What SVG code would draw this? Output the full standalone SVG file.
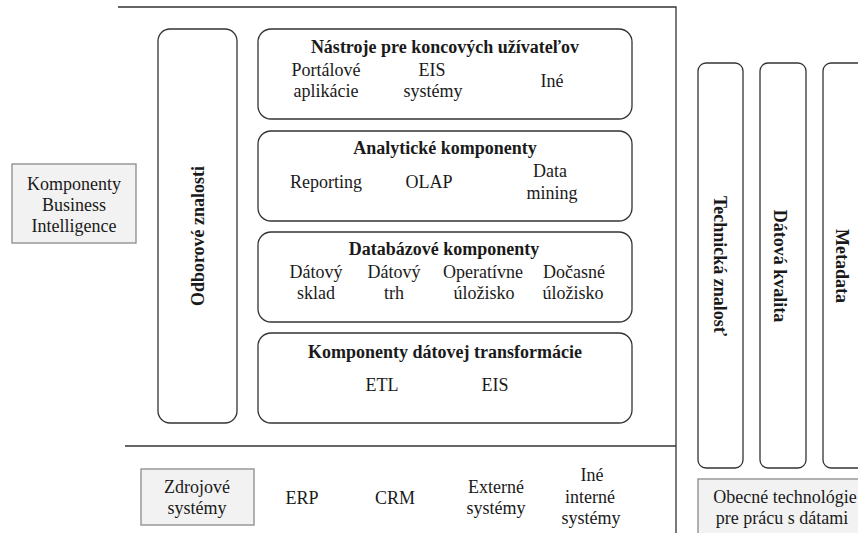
<svg xmlns="http://www.w3.org/2000/svg" width="858" height="533" viewBox="0 0 858 533" font-family="'Liberation Serif', 'Times New Roman', serif">
<style>
text{font-family:'Liberation Serif','Times New Roman',serif;font-size:18px;fill:#1a1a1a;text-anchor:middle}
.b{font-weight:bold}
.box{fill:#fff;stroke:#333;stroke-width:1.3}
.gray{fill:#f2f2f2;stroke:#8a8a8a;stroke-width:1.3}
.ln{stroke:#333;stroke-width:1.3;fill:none}
</style>
<rect width="858" height="533" fill="#fff"/>
<g id="frame-lines">
<path class="ln" d="M118 7H676V533"/>
<path class="ln" d="M125 446H676"/>
</g>
<g id="bi-label">
<rect class="gray" x="12" y="164" width="124" height="79"/>
<text x="74" y="190">Komponenty</text>
<text x="74" y="211">Business</text>
<text x="74" y="232">Intelligence</text>
</g>
<g id="odborove">
<rect class="box" x="158" y="29" width="79" height="394" rx="12"/>
<text class="b" transform="translate(198,236) rotate(-90)" dominant-baseline="central">Odborové znalosti</text>
</g>
<g id="nastroje">
<rect class="box" x="258" y="29" width="374" height="90" rx="13"/>
<text class="b" x="445" y="53">Nástroje pre koncových užívateľov</text>
<text x="326" y="76">Portálové</text>
<text x="326" y="97">aplikácie</text>
<text x="432" y="76">EIS</text>
<text x="433" y="97">systémy</text>
<text x="552" y="87">Iné</text>
</g>
<g id="analyticke">
<rect class="box" x="258" y="131" width="374" height="90" rx="13"/>
<text class="b" x="445" y="154">Analytické komponenty</text>
<text x="326" y="188">Reporting</text>
<text x="429" y="188">OLAP</text>
<text x="550" y="177">Data</text>
<text x="552" y="199">mining</text>
</g>
<g id="databazove">
<rect class="box" x="258" y="232" width="374" height="90" rx="13"/>
<text class="b" x="444" y="255">Databázové komponenty</text>
<text x="316" y="278">Dátový</text>
<text x="316" y="299">sklad</text>
<text x="394" y="278">Dátový</text>
<text x="394" y="299">trh</text>
<text x="483" y="278">Operatívne</text>
<text x="484" y="299">úložisko</text>
<text x="574" y="278">Dočasné</text>
<text x="573" y="299">úložisko</text>
</g>
<g id="transformacia">
<rect class="box" x="258" y="333" width="374" height="90" rx="13"/>
<text class="b" x="445" y="358">Komponenty dátovej transformácie</text>
<text x="382" y="391">ETL</text>
<text x="495" y="391">EIS</text>
</g>
<g id="zdrojove">
<rect class="gray" x="141" y="469" width="113" height="56"/>
<text x="197" y="493">Zdrojové</text>
<text x="197" y="514">systémy</text>
</g>
<g id="erp"><text x="302" y="504">ERP</text></g>
<g id="crm"><text x="395" y="504">CRM</text></g>
<g id="externe">
<text x="496" y="493">Externé</text>
<text x="496" y="514">systémy</text>
</g>
<g id="ine-interne">
<text x="592" y="481">Iné</text>
<text x="590" y="503">interné</text>
<text x="591" y="524">systémy</text>
</g>
<g id="technicka">
<rect class="box" x="698" y="63" width="45" height="405" rx="8"/>
<text class="b" transform="translate(720,266) rotate(90)" dominant-baseline="central">Technická znalosť</text>
</g>
<g id="datova-kvalita">
<rect class="box" x="760" y="63" width="46" height="405" rx="8"/>
<text class="b" transform="translate(780,266) rotate(90)" dominant-baseline="central">Dátová kvalita</text>
</g>
<g id="metadata">
<rect class="box" x="823" y="63" width="46" height="405" rx="8"/>
<text class="b" transform="translate(842,266) rotate(90)" dominant-baseline="central">Metadata</text>
</g>
<g id="obecne">
<rect class="gray" x="698" y="479" width="172" height="70"/>
<text x="785" y="503">Obecné technológie</text>
<text x="782" y="524">pre prácu s dátami</text>
</g>
</svg>
